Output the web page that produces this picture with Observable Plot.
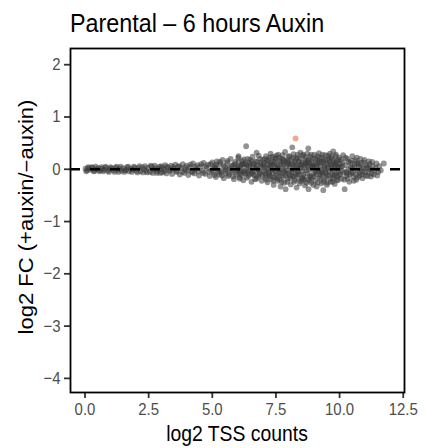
<!DOCTYPE html>
<html>
<head>
<meta charset="utf-8">
<script src="https://cdn.jsdelivr.net/npm/d3@7"></script>
<script src="https://cdn.jsdelivr.net/npm/@observablehq/plot@0.6"></script>
<style>
  body { margin: 0; background: #fff; }
  #wrap { width: 430px; height: 448px; position: relative; font-family: "Liberation Sans", Arial, Helvetica, sans-serif; }
  #title { height: 40px; line-height: 46px; padding-left: 70px; font-size: 26.5px; color: #000; white-space: nowrap; overflow: visible; }
  #title span { display: inline-block; transform: scaleX(0.88); transform-origin: 0 50%; }
  svg { display: block; }
</style>
</head>
<body>
<div id="wrap">
  <div id="title"><span id="titleText"></span></div>
  <div id="chart"></div>
</div>
<script>
const titleText = "Parental – 6 hours Auxin";
const xLabel = "log2 TSS counts";
const yLabel = "log2 FC (+auxin/−auxin)";
const xTicks = [0, 2.5, 5, 7.5, 10, 12.5];
const yTicks = [-4, -3, -2, -1, 0, 1, 2];

// [log2 TSS counts, log2 FC]
const tssPoints = [
  [0.02,0.01],[0.08,-0.02],[0.15,0.02],[0.22,-0.01],[0.3,0.03],[0.38,-0.03],[0.45,0.0],[0.52,0.02],[0.6,-0.02],[0.68,0.01],
  [0.75,-0.01],[0.83,0.03],[0.9,-0.03],[0.98,0.0],[1.05,0.02],[1.12,-0.02],[1.2,0.03],[1.28,-0.01],[1.35,0.01],[1.43,-0.03],
  [1.5,0.02],[1.58,-0.02],[1.65,0.04],[1.72,-0.04],[1.8,0.01],[1.88,-0.01],[1.95,0.03],[2.02,-0.03],[2.1,0.02],[2.18,-0.04],
  [2.25,0.04],[2.32,0.0],[2.4,-0.03],[2.48,0.03],[2.55,-0.05],[2.62,0.05],[2.7,-0.01],[2.78,0.02],[2.85,-0.04],[2.92,0.05],
  [0.05,-0.04],[0.12,0.04],[0.26,0.04],[0.34,-0.04],[0.42,0.05],[0.56,-0.04],[0.64,0.04],[0.72,-0.04],[0.8,0.05],[0.94,-0.05],
  [1.0,0.04],[1.16,-0.05],[1.24,0.05],[1.32,-0.05],[1.4,0.05],[1.54,-0.05],[1.62,-0.01],[1.7,0.05],[1.84,-0.05],[1.92,0.05],
  [2.06,-0.06],[2.14,0.06],[2.28,-0.06],[2.36,0.06],[2.44,-0.06],[2.58,0.07],[2.66,-0.07],[2.74,0.07],[2.82,-0.07],[2.9,0.0],[2.96,-0.07],
  [3.0,0.06],[3.04,-0.06],[3.1,0.0],[3.15,0.08],[3.2,-0.08],[3.26,0.03],[3.32,-0.03],[3.38,0.07],[3.42,-0.09],[3.5,0.01],
  [3.55,0.09],[3.6,-0.05],[3.66,0.05],[3.72,-0.1],[3.78,0.02],[3.84,0.1],[3.9,-0.07],[3.95,-0.01],[4.0,0.07],[4.06,-0.11],
  [4.12,0.04],[4.18,-0.04],[4.24,0.11],[4.3,-0.08],[4.35,0.0],[4.42,0.08],[4.48,-0.12],[4.54,0.05],[4.6,-0.03],[4.66,0.12],
  [4.72,-0.09],[4.78,0.02],[4.84,0.09],[4.9,-0.13],[4.96,-0.02],[5.0,0.13],
  [3.02,0.03],[3.12,-0.04],[3.22,0.05],[3.34,-0.01],[3.46,0.04],[3.58,-0.03],[3.7,0.06],[3.82,-0.05],[3.93,0.03],[4.03,-0.02],
  [4.14,0.09],[4.22,-0.06],[4.33,0.05],[4.45,-0.04],[4.56,0.1],[4.64,-0.07],[4.75,0.06],[4.86,-0.05],[4.94,0.1],
  [5.05,-0.06],[5.1,0.06],[5.14,-0.15],[5.18,0.15],[5.22,0.0],[5.27,-0.1],[5.32,0.1],[5.36,-0.02],[5.4,0.18],[5.45,-0.17],
  [5.5,0.04],[5.54,-0.08],[5.58,0.12],[5.63,-0.13],[5.68,0.02],[5.72,0.2],[5.76,-0.05],[5.8,0.08],[5.85,-0.19],[5.9,0.14],
  [5.94,-0.1],[5.98,0.0],[6.02,0.22],[6.03,0.25],[6.06,-0.15],[6.1,0.06],[6.14,-0.04],[6.18,0.16],[6.22,-0.21],[6.26,0.1],
  [6.3,-0.08],[6.34,0.02],[6.33,0.44],[6.38,0.2],[6.42,-0.13],[6.46,0.12],[6.5,-0.02],[6.54,-0.24],[6.58,0.24],[6.62,0.05],
  [6.66,-0.11],[6.7,0.15],[6.74,0.32],[6.74,-0.18],[6.78,0.0],[6.82,0.26],[6.86,-0.07],[6.9,0.09],[6.94,-0.22],[6.98,0.18],
  [5.03,0.02],[5.08,-0.11],[5.16,0.09],[5.24,-0.05],[5.3,0.14],[5.38,-0.12],[5.44,0.07],[5.52,-0.03],[5.6,0.16],[5.66,-0.1],
  [5.74,0.06],[5.82,-0.14],[5.88,0.1],[5.96,-0.05],[6.04,0.14],[6.08,-0.18],[6.12,0.02],[6.16,-0.11],[6.24,0.19],[6.28,-0.03],
  [6.36,-0.16],[6.44,0.05],[6.48,0.18],[6.56,-0.07],[6.64,0.1],[6.68,-0.19],[6.76,0.14],[6.84,-0.02],[6.88,0.2],[6.96,-0.12],
  [6.0,0.05],[6.1,-0.08],[6.2,0.1],[6.3,0.12],[6.4,-0.05],[6.5,0.08],[6.6,-0.1],[6.7,0.03],[6.8,-0.14],[6.9,0.12],
  [5.12,0.03],[5.34,-0.06],[5.56,0.0],[5.78,-0.02],[5.92,0.04],[6.05,-0.02],[6.15,0.09],[6.25,-0.06],[6.35,0.08],[6.45,-0.09],
  [6.55,0.15],[6.65,-0.03],[6.75,0.07],[6.85,-0.1],[6.95,0.04],
  [7.02,-0.04],[7.05,0.12],[7.08,-0.16],[7.11,0.25],[7.14,0.02],[7.17,-0.25],[7.2,0.18],[7.23,-0.09],[7.26,0.07],[7.29,0.3],
  [7.32,-0.19],[7.35,-0.02],[7.38,0.14],[7.41,-0.3],[7.44,0.22],[7.47,0.04],[7.5,-0.12],[7.53,0.1],[7.56,-0.22],[7.59,0.28],
  [7.62,-0.06],[7.65,0.16],[7.68,-0.33],[7.71,0.01],[7.74,0.2],[7.77,-0.15],[7.8,0.08],[7.83,-0.26],[7.86,0.33],[7.88,-0.38],
  [7.9,-0.02],[7.93,0.13],[7.96,-0.18],[7.99,0.24],
  [7.0,0.08],[7.1,-0.1],[7.2,0.0],[7.3,0.12],[7.4,-0.07],[7.5,0.2],[7.6,0.0],[7.7,-0.12],[7.8,0.18],[7.9,-0.08],
  [7.04,0.04],[7.07,0.2],[7.12,-0.2],[7.16,0.1],[7.22,-0.05],[7.25,0.22],[7.28,-0.14],[7.33,0.05],[7.36,0.24],[7.4,-0.22],
  [7.45,0.14],[7.48,-0.04],[7.52,0.26],[7.55,-0.17],[7.58,0.03],[7.63,0.22],[7.66,-0.08],[7.7,0.12],[7.73,-0.24],[7.76,0.27],
  [7.79,-0.02],[7.84,0.16],[7.87,-0.12],[7.92,0.05],[7.95,-0.24],[7.98,0.1],
  [7.06,-0.07],[7.15,0.16],[7.25,-0.12],[7.35,0.09],[7.45,-0.15],[7.55,0.06],[7.65,-0.2],[7.75,0.1],[7.85,-0.05],[7.95,0.17],
  [8.02,-0.08],[8.05,0.05],[8.08,-0.29],[8.11,0.19],[8.14,0.42],[8.16,-0.13],[8.19,0.29],[8.22,0.0],[8.25,-0.21],[8.28,0.11],
  [8.31,-0.35],[8.34,0.22],[8.37,-0.05],[8.4,0.15],[8.43,-0.27],[8.46,0.32],[8.49,0.03],[8.52,-0.16],[8.55,0.26],[8.58,-0.1],
  [8.61,0.08],[8.64,-0.31],[8.67,0.18],[8.7,-0.02],[8.73,0.3],[8.76,-0.2],[8.77,0.4],[8.78,-0.38],[8.8,0.12],[8.83,-0.12],
  [8.86,0.24],[8.89,-0.26],[8.92,0.04],[8.95,0.2],[8.98,-0.07],
  [8.0,0.14],[8.1,-0.02],[8.2,-0.14],[8.3,0.2],[8.4,-0.1],[8.5,0.1],[8.6,-0.2],[8.7,0.12],[8.8,0.0],[8.9,0.14],
  [8.03,0.25],[8.06,-0.17],[8.1,0.09],[8.13,-0.05],[8.17,0.22],[8.21,-0.24],[8.24,0.15],[8.27,-0.1],[8.32,0.06],[8.35,0.28],
  [8.38,-0.18],[8.42,0.02],[8.45,0.2],[8.48,-0.23],[8.51,0.13],[8.54,-0.04],[8.57,0.28],[8.6,-0.15],[8.63,0.03],[8.66,0.23],
  [8.69,-0.26],[8.72,0.08],[8.75,-0.08],[8.79,0.18],[8.82,-0.22],[8.85,0.05],[8.88,0.28],[8.91,-0.16],[8.94,0.1],[8.97,-0.3],
  [8.05,-0.12],[8.15,0.1],[8.25,0.04],[8.35,-0.08],[8.45,0.08],[8.55,-0.2],[8.65,0.12],[8.75,0.15],[8.85,-0.15],[8.95,0.06],
  [9.01,0.28],[9.04,-0.22],[9.07,0.1],[9.1,-0.33],[9.13,0.17],[9.16,-0.04],[9.19,0.31],[9.22,-0.15],[9.25,0.06],[9.28,-0.27],
  [9.31,0.22],[9.34,-0.09],[9.36,-0.4],[9.38,0.13],[9.41,-0.2],[9.44,0.27],[9.47,0.0],[9.5,-0.3],[9.53,0.18],[9.56,-0.12],
  [9.59,0.09],[9.62,0.3],[9.65,-0.24],[9.68,0.03],[9.71,0.2],[9.74,-0.17],[9.75,0.34],[9.78,0.11],[9.81,-0.28],[9.84,0.25],
  [9.87,-0.06],[9.9,0.15],[9.93,-0.21],[9.96,0.05],[9.99,0.22],
  [9.0,-0.14],[9.1,0.06],[9.2,0.15],[9.3,-0.04],[9.4,0.06],[9.5,-0.1],[9.6,0.2],[9.7,-0.08],[9.8,0.05],[9.9,-0.14],[10.0,0.1],
  [9.02,0.05],[9.05,0.2],[9.08,-0.1],[9.12,0.25],[9.15,-0.25],[9.18,0.0],[9.21,0.22],[9.24,-0.18],[9.27,0.12],[9.3,-0.06],
  [9.33,0.28],[9.37,-0.24],[9.4,0.02],[9.43,0.18],[9.46,-0.15],[9.49,0.1],[9.52,-0.26],[9.55,0.26],[9.58,-0.04],[9.61,0.14],
  [9.64,-0.18],[9.67,0.24],[9.7,0.0],[9.73,-0.24],[9.77,0.16],[9.8,-0.1],[9.83,0.08],[9.86,0.28],[9.89,-0.2],[9.92,0.02],
  [9.95,0.18],[9.98,-0.12],
  [9.05,-0.05],[9.15,0.12],[9.25,-0.1],[9.35,0.16],[9.45,-0.06],[9.55,0.03],[9.65,0.1],[9.75,-0.12],[9.85,0.12],[9.95,-0.04],
  [10.02,-0.1],[10.06,0.18],[10.1,-0.03],[10.14,0.27],[10.18,-0.2],[10.2,-0.38],[10.22,0.08],[10.26,-0.13],[10.3,0.2],[10.34,0.0],
  [10.38,-0.24],[10.42,0.12],[10.46,-0.07],[10.5,0.25],[10.54,-0.15],[10.58,0.05],[10.62,0.17],[10.66,-0.2],[10.7,-0.02],[10.74,0.1],
  [10.78,-0.12],[10.82,0.2],[10.86,0.03],[10.9,-0.17],[10.95,0.13],[11.0,-0.06],[11.05,0.08],[11.1,-0.13],[11.15,0.15],[11.2,0.0],
  [11.25,-0.08],[11.3,0.06],[11.38,-0.03],[11.45,0.11],[11.52,-0.05],[11.74,0.11],
  [10.04,0.04],[10.08,-0.18],[10.12,0.13],[10.16,-0.06],[10.24,0.22],[10.28,-0.05],[10.32,-0.18],[10.36,0.14],[10.4,-0.1],[10.44,0.04],
  [10.48,0.16],[10.52,-0.06],[10.56,-0.22],[10.6,0.1],[10.64,-0.1],[10.68,0.22],[10.72,-0.15],[10.76,0.04],[10.8,-0.06],[10.84,0.12],
  [10.88,-0.1],[10.93,0.02],[10.98,0.18],[11.03,-0.12],[11.08,0.02],[11.13,-0.05],[11.18,0.1],[11.23,-0.14],[11.28,0.14],[11.34,-0.1],
  [11.42,0.02],[11.48,-0.12],[11.56,0.06],[11.62,-0.02],
  [10.1,0.06],[10.3,-0.08],[10.5,0.02],[10.7,0.12],[10.9,-0.04],[11.1,0.04]
];
// significant gene (highlighted)
const sigPoints = [[8.27, 0.59]];

const font = '"Liberation Sans", Arial, Helvetica, sans-serif';
document.getElementById("titleText").textContent = titleText;

const chart = Plot.plot({
  width: 430,
  height: 408,
  marginTop: 8,
  marginBottom: 56,
  marginLeft: 70,
  marginRight: 26,
  style: { fontFamily: font, background: "#fff", overflow: "visible" },
  x: { domain: [-0.57, 12.55], ticks: xTicks, tickFormat: d3.format(".1f") },
  y: { domain: [-4.27, 2.31], ticks: yTicks, tickFormat: d3.format("d") },
  marks: [
    Plot.dot(tssPoints, { x: d => d[0], y: d => d[1], r: 2.9, fill: "#3a3a3a", fillOpacity: 0.55, stroke: "none" }),
    Plot.dot(sigPoints, { x: d => d[0], y: d => d[1], r: 2.9, fill: "#ec9a80", fillOpacity: 0.85, stroke: "none" }),
    Plot.ruleY([0], { stroke: "#000", strokeWidth: 2.6, strokeDasharray: "10,10" }),
    Plot.axisX({ ticks: xTicks, tickFormat: d3.format(".1f"), tickSize: 6, tickPadding: 4, fontSize: 17, stroke: "#333", strokeWidth: 1.8, color: "#4d4d4d", label: null }),
    Plot.axisY({ ticks: yTicks, tickFormat: d3.format("d"), tickSize: 6, tickPadding: 4, fontSize: 17, stroke: "#333", strokeWidth: 1.8, color: "#4d4d4d", label: null }),
    Plot.frame({ stroke: "#000", strokeWidth: 1.8 })
  ]
});

// narrow the tick labels horizontally (reference glyphs are taller than wide)
d3.select(chart).selectAll("g[aria-label$='tick label'] text").each(function () {
  const t = this.getAttribute("transform");
  if (t) {
    this.setAttribute("transform", t + " scale(0.88,1)");
  } else {
    const x = +this.getAttribute("x") || 0, y = +this.getAttribute("y") || 0;
    this.removeAttribute("x"); this.removeAttribute("y");
    this.setAttribute("transform", `translate(${x},${y}) scale(0.88,1)`);
  }
});

// axis titles
const svg = d3.select(chart);
svg.append("text")
  .attr("transform", "translate(237,401) scale(0.88,1)")
  .attr("text-anchor", "middle")
  .attr("font-size", 22)
  .attr("fill", "#000")
  .text(xLabel);
svg.append("text")
  .attr("transform", "translate(33,177) rotate(-90) scale(1,0.88)")
  .attr("text-anchor", "middle")
  .attr("font-size", 22)
  .attr("fill", "#000")
  .text(yLabel);

document.getElementById("chart").appendChild(chart);
</script>
</body>
</html>
